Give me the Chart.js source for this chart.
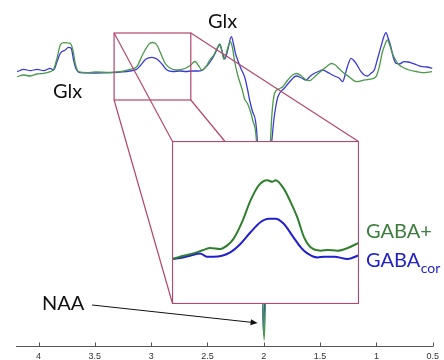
<!DOCTYPE html>
<html><head><meta charset="utf-8">
<script src="https://cdn.jsdelivr.net/npm/chart.js@4"></script>
<style>
html,body{margin:0;padding:0;background:#fff;}
#wrap{position:relative;width:444px;height:360px;overflow:hidden;}
#main{position:absolute;left:0;top:0;}
#inset{position:absolute;left:172px;top:141px;}
</style></head><body>
<div id="wrap">
<canvas id="main" width="444" height="360"></canvas>
<canvas id="inset" width="187" height="163"></canvas>
</div>
<script>
// x axis tick values (ppm)
const tickValues = [4, 3.5, 3, 2.5, 2, 1.5, 1, 0.5];

// GABA+ spectrum (green): chemical shift (ppm) and intensity (a.u.)
const gabaPlusPpm = [4.19,4.132,4.072,4.013,3.955,3.896,3.866,3.836,3.807,3.778,
3.719,3.695,3.674,3.645,3.571,3.497,3.365,3.276,3.188,3.128,
3.07,3.011,2.984,2.949,2.913,2.878,2.834,2.772,2.701,2.648,
2.612,2.577,2.55,2.515,2.48,2.444,2.409,2.391,2.373,2.356,
2.338,2.312,2.294,2.276,2.258,2.232,2.196,2.17,2.143,2.117,
2.099,2.066,2.055,2.028,2.011,1.997,1.984,1.966,1.953,1.94,
1.927,1.904,1.869,1.831,1.787,1.745,1.71,1.665,1.63,1.595,
1.542,1.48,1.435,1.4,1.365,1.329,1.303,1.241,1.181,1.126,
1.064,1.004,0.975,0.949,0.922,0.902,0.882,0.86,0.825,0.798,
0.754,0.71,0.648,0.595,0.506];
const gabaPlusI = [-4.7,-3,-4,-2,-1.3,0.3,2.7,13.7,27,29.3,
28.7,22,8.7,0.3,-0.7,0,-0.5,0.3,2.7,5.3,
18.7,28.7,29.5,27,18,9,4,2,3.5,7,
10.5,6,2,5,12,17,25,28,22,13,
17,27,30,23,10,-3,-16,-27,-32,-40,
-48,-68,-98,-168,-228,-268,-228,-168,-108,-68,
-41,-21.3,-17,-14.7,-8,-3,-1.5,-4,-7.5,-8.7,
-4,2,6,8.5,7,3,0.3,-5,-9.7,-8.5,
-7.3,-4.7,5,19,28,32,27,19,11,7,
4,2,0.5,-0.7,0.3];

// GABAcor spectrum (blue)
const gabaCorPpm = [4.19,4.132,4.072,4.013,3.955,3.896,3.866,3.836,3.807,3.763,
3.734,3.71,3.689,3.665,3.63,3.497,3.365,3.276,3.188,3.128,
3.099,3.046,2.993,2.949,2.904,2.86,2.807,2.745,2.692,2.639,
2.586,2.55,2.506,2.471,2.435,2.391,2.369,2.347,2.32,2.288,
2.267,2.25,2.232,2.205,2.17,2.143,2.126,2.099,2.075,2.058,
2.046,2.024,2.011,2.002,1.993,1.98,1.962,1.944,1.928,1.911,
1.891,1.875,1.816,1.772,1.712,1.665,1.624,1.586,1.55,1.515,
1.477,1.444,1.418,1.373,1.329,1.3,1.276,1.258,1.226,1.205,
1.181,1.137,1.108,1.079,1.046,1.019,0.993,0.96,0.935,0.916,
0.896,0.872,0.851,0.827,0.798,0.754,0.719,0.681,0.639,0.592,
0.55,0.504];
const gabaCorI = [0.3,2.7,1.3,2.7,1.3,3.7,2,10.3,18.7,22,
24.7,23.7,12,2.7,-0.7,-1,-0.7,0,1,2.7,
6,13,14.7,13,8,2,0.5,1,0.5,1,
1,1.5,6,11,18,27,20,13,22,35.3,
27,18,12,4,-5,-18,-28,-40,-48,-68,
-108,-178,-228,-263,-228,-178,-118,-83,-68,-48,
-33,-24.7,-16,-10,-4,-6,-8,-4,-1.3,0.5,
2,0.3,-1.3,-4,-6.3,-9.7,-2,5.3,13.7,12,
8.7,0.3,-3,-4,-1,2,12,25.3,35,39.3,
34,25.3,15,8.7,8,10.3,10,8.7,7,5.3,
5,3.7];

// Inset (zoom on the 3 ppm GABA peak)
const insetPlusPpm = [3.329,3.3,3.251,3.214,3.19,3.153,3.129,3.105,3.074,3.043,3.013,2.982,2.964,2.952,2.922,2.897,2.873,2.848,2.824,2.787,2.763,2.726,2.689,2.653,2.648];
const insetPlusI = [-0.3,2,5.3,8.7,10.7,9.7,13,19.7,36.3,58,73,78,76.5,78,69.7,56.3,41.3,21.3,11.3,8,8.7,8,10.7,15.3,16];
const insetCorPpm = [3.329,3.3,3.263,3.227,3.202,3.178,3.147,3.117,3.08,3.043,3.007,2.976,2.952,2.922,2.891,2.86,2.836,2.799,2.775,2.738,2.689,2.653,2.648];
const insetCorI = [-0.3,0.7,3,5.3,2,2,3,6.3,14.7,26.3,36.3,39.7,39.7,34.7,23,11.3,5.3,1.3,2,2,-0.3,3,3.5];

// zoomed region in main plot (ppm range, intensity range)
const zoomPpm = [3.329, 2.648];
const zoomI = [-28, 39];

const toXY = (xs, ys) => xs.map((x, i) => ({x: x, y: ys[i]}));
const MAG = '#b2476f';
const FONT = 'Lato, "Open Sans", sans-serif';

const mainPlugin = {
  id: 'mainDecor',
  afterDraw(chart) {
    const ctx = chart.ctx, xs = chart.scales.x, ys = chart.scales.y;
    const X = v => xs.getPixelForValue(v), Y = v => ys.getPixelForValue(v);
    ctx.save();
    // inward tick marks
    ctx.strokeStyle = '#555'; ctx.lineWidth = 1;
    const b = Math.round(chart.chartArea.bottom) + 0.5;
    tickValues.forEach(t => {
      const x = Math.round(X(t)) + 0.5;
      ctx.beginPath(); ctx.moveTo(x, b); ctx.lineTo(x, b - 4); ctx.stroke();
    });
    // zoom box & connectors
    const x1 = X(zoomPpm[0]), x2 = X(zoomPpm[1]), y1 = Y(zoomI[1]), y2 = Y(zoomI[0]);
    const ins = document.getElementById('inset');
    const L = ins.offsetLeft + 0.5, T = ins.offsetTop + 0.5, R = L + ins.width - 1, B = T + ins.height - 1;
    ctx.strokeStyle = MAG; ctx.lineWidth = 1.2;
    ctx.strokeRect(x1, y1, x2 - x1, y2 - y1);
    [[x1, y1, L, T], [x2, y1, R, T], [x1, y2, L, B], [x2, y2, R, B]].forEach(s => {
      ctx.beginPath(); ctx.moveTo(s[0], s[1]); ctx.lineTo(s[2], s[3]); ctx.stroke();
    });
    // labels
    ctx.fillStyle = '#111';
    ctx.font = '20px ' + FONT;
    ctx.textBaseline = 'alphabetic'; ctx.textAlign = 'left';
    ctx.fillText('Glx', 53, 98);
    ctx.fillText('Glx', 208, 28);
    ctx.fillText('NAA', 42, 310);
    // arrow to NAA
    const ax0 = X(3.524), ay0 = Y(-233), ax1 = X(2.055), ay1 = Y(-251);
    ctx.strokeStyle = '#111'; ctx.lineWidth = 1;
    ctx.beginPath(); ctx.moveTo(ax0, ay0); ctx.lineTo(ax1 - 5, ay1 - 0.55); ctx.stroke();
    const ang = Math.atan2(ay1 - ay0, ax1 - ax0);
    ctx.beginPath();
    ctx.moveTo(ax1, ay1);
    ctx.lineTo(ax1 - 7 * Math.cos(ang) + 3 * Math.sin(ang), ay1 - 7 * Math.sin(ang) - 3 * Math.cos(ang));
    ctx.lineTo(ax1 - 7 * Math.cos(ang) - 3 * Math.sin(ang), ay1 - 7 * Math.sin(ang) + 3 * Math.cos(ang));
    ctx.closePath(); ctx.fill();
    // legend texts
    ctx.font = '20px ' + FONT;
    ctx.fillStyle = '#3d7d3d';
    ctx.fillText('GABA+', 366, 238);
    ctx.fillStyle = '#2222c8';
    ctx.fillText('GABA', 366, 267);
    const w = ctx.measureText('GABA').width;
    ctx.font = '14px ' + FONT;
    ctx.fillText('cor', 366 + w + 0.5, 273);
    ctx.restore();
  }
};

new Chart(document.getElementById('main'), {
  type: 'line',
  data: {
    datasets: [
      {label: 'GABA+', data: toXY(gabaPlusPpm, gabaPlusI), borderColor: '#4a9a4a', borderWidth: 1.3, pointRadius: 0, cubicInterpolationMode: 'monotone'},
      {label: 'GABAcor', data: toXY(gabaCorPpm, gabaCorI), borderColor: '#3a3ad6', borderWidth: 1.3, pointRadius: 0, cubicInterpolationMode: 'monotone'}
    ]
  },
  options: {
    responsive: false, animation: false, events: [],
    layout: {padding: {left: 16, right: 9.5, top: 0, bottom: 0}},
    plugins: {legend: {display: false}, tooltip: {enabled: false}},
    scales: {
      x: {
        type: 'linear', min: 0.5, max: 4.2, reverse: true,
        grid: {display: false, drawTicks: false},
        border: {display: true, color: '#555', width: 1},
        ticks: {padding: 5, color: '#333', font: {size: 9, family: '"Liberation Sans", Arial, sans-serif'},
          callback: v => String(v), maxRotation: 0, autoSkip: false},
        afterBuildTicks: s => { s.ticks = tickValues.map(v => ({value: v})); },
        afterFit: s => { s.height = 14; }
      },
      y: {type: 'linear', min: -274, max: 72, display: false}
    }
  },
  plugins: [mainPlugin]
});

const insetPlugin = {
  id: 'insetDecor',
  beforeDraw(chart) {
    const ctx = chart.ctx;
    ctx.save(); ctx.fillStyle = '#fff'; ctx.fillRect(0, 0, chart.width, chart.height); ctx.restore();
  },
  afterDraw(chart) {
    const ctx = chart.ctx;
    ctx.save(); ctx.strokeStyle = MAG; ctx.lineWidth = 1.2;
    ctx.strokeRect(0.5, 0.5, chart.width - 1, chart.height - 1); ctx.restore();
  }
};

new Chart(document.getElementById('inset'), {
  type: 'line',
  data: {
    datasets: [
      {label: 'GABA+', data: toXY(insetPlusPpm, insetPlusI), borderColor: '#2f7f2f', borderWidth: 2, pointRadius: 0, cubicInterpolationMode: 'monotone'},
      {label: 'GABAcor', data: toXY(insetCorPpm, insetCorI), borderColor: '#2020cc', borderWidth: 2, pointRadius: 0, cubicInterpolationMode: 'monotone'}
    ]
  },
  options: {
    responsive: false, animation: false, events: [],
    layout: {padding: 0},
    plugins: {legend: {display: false}, tooltip: {enabled: false}},
    scales: {
      x: {type: 'linear', min: 2.648, max: 3.329, reverse: true, display: false},
      y: {type: 'linear', min: -45, max: 117, display: false}
    }
  },
  plugins: [insetPlugin]
});
</script>
</body></html>
